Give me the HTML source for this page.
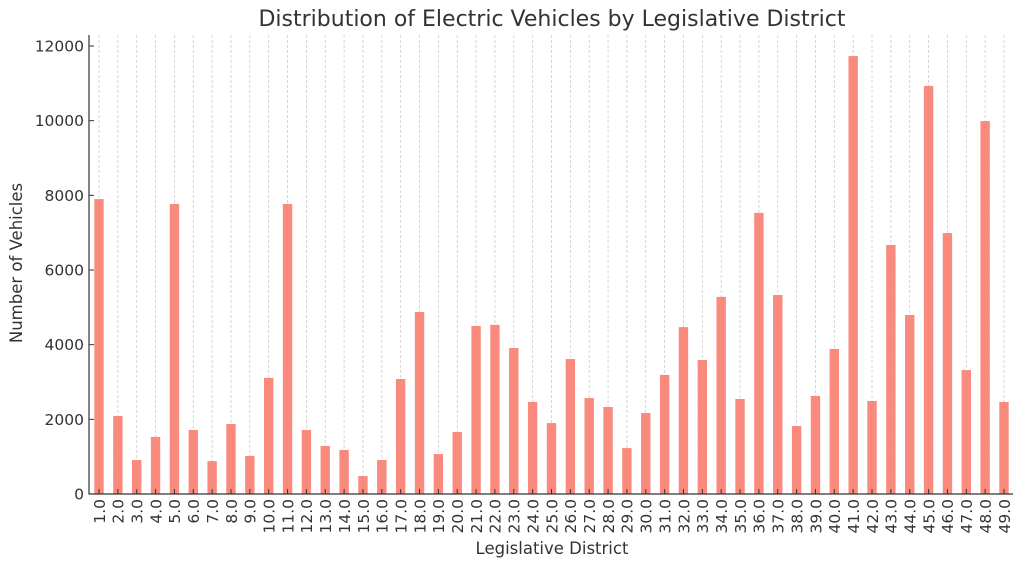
<!DOCTYPE html>
<html><head><meta charset="utf-8"><style>
body{margin:0;background:#fff;}
svg text{font-family:"DejaVu Sans","Liberation Sans",sans-serif;fill:#333;}
</style></head><body>
<svg id="c" width="1024" height="568" xmlns="http://www.w3.org/2000/svg"></svg>
<script>
var v=[7900,2090,910,1530,7770,1715,880,1875,1020,3110,7770,1715,1285,1180,480,910,3080,4875,1070,1660,4500,4530,3910,2465,1900,3615,2570,2330,1230,2170,3190,4470,3590,5280,2545,7530,5330,1820,2625,3885,11730,2490,6670,4795,10930,6990,3320,9990,2465];
var s='';var y0=494,k=0.037333,x0=99,dx=18.854;
s+='<text x="552" y="26" font-size="22" text-anchor="middle">Distribution of Electric Vehicles by Legislative District</text>';
for(var i=0;i<49;i++){var x=x0+i*dx;
s+='<line x1="'+x+'" y1="35" x2="'+x+'" y2="494" stroke="#ccc" stroke-width="0.8" stroke-dasharray="3,2"/>';}
for(var i=0;i<49;i++){var x=x0+i*dx,h=v[i]*k;
s+='<rect x="'+(x-4.7)+'" y="'+(y0-h)+'" width="9.4" height="'+h+'" fill="#fa8072" fill-opacity="0.92"/>';
s+='<line x1="'+x+'" y1="494" x2="'+x+'" y2="489" stroke="#333" stroke-width="1"/>';
s+='<text transform="translate('+(x+5.8)+',499) rotate(-90)" font-size="15.5" text-anchor="end">'+(i+1)+'.0</text>';}
for(var j=0;j<=6;j++){var y=y0-j*2000*k;
s+='<line x1="89" y1="'+y+'" x2="94" y2="'+y+'" stroke="#333"/>';
s+='<text x="84" y="'+(y+5.5)+'" font-size="15.5" text-anchor="end">'+(j*2000)+'</text>';}
s+='<line x1="89" y1="35" x2="89" y2="494.5" stroke="#333" stroke-width="1.2"/>';
s+='<line x1="89" y1="494" x2="1013" y2="494" stroke="#333" stroke-width="1.2"/>';
s+='<text x="552" y="554" font-size="16.5" text-anchor="middle">Legislative District</text>';
s+='<text transform="translate(22,263) rotate(-90)" font-size="16.5" text-anchor="middle">Number of Vehicles</text>';
document.getElementById('c').innerHTML=s;
</script>
</body></html>
